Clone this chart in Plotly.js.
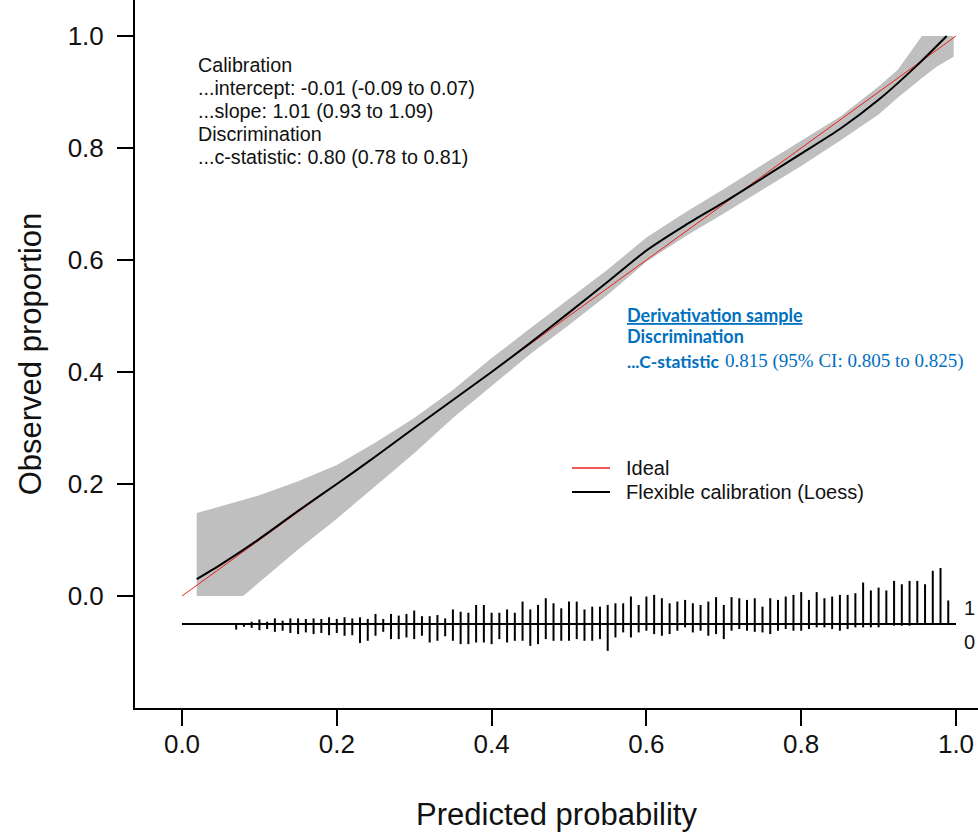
<!DOCTYPE html>
<html><head><meta charset="utf-8">
<script src="https://cdn.plot.ly/plotly-3.0.1.min.js"></script>
<style>html,body{margin:0;padding:0;background:#fff;}#chart{width:978px;height:835px;}</style>
</head><body><div id="chart"></div>
<script>
// ---- data ----
const idealX = [0, 1];
const idealY = [0, 1];

const loessX = [0.019, 0.05, 0.10, 0.15, 0.20, 0.25, 0.30, 0.35, 0.40, 0.45, 0.50, 0.55, 0.60, 0.65, 0.70, 0.75, 0.80, 0.85, 0.90, 0.95, 0.988];
const loessY = [0.030, 0.056, 0.102, 0.152, 0.200, 0.249, 0.300, 0.350, 0.400, 0.452, 0.506, 0.561, 0.617, 0.662, 0.703, 0.746, 0.790, 0.834, 0.886, 0.948, 1.000];

const bandX     = [0.019, 0.05, 0.079, 0.10, 0.15, 0.20, 0.25, 0.30, 0.35, 0.40, 0.45, 0.50, 0.55, 0.60, 0.65, 0.70, 0.75, 0.80, 0.85, 0.90, 0.925, 0.956, 0.975, 0.997];
const bandUpper = [0.148, 0.160, 0.172, 0.180, 0.205, 0.234, 0.274, 0.318, 0.368, 0.425, 0.478, 0.530, 0.583, 0.640, 0.685, 0.727, 0.770, 0.812, 0.856, 0.910, 0.940, 1.000, 1.000, 1.000];
const bandLower = [0.000, 0.000, 0.000, 0.025, 0.083, 0.138, 0.196, 0.255, 0.318, 0.375, 0.432, 0.484, 0.538, 0.597, 0.642, 0.683, 0.725, 0.768, 0.813, 0.860, 0.890, 0.925, 0.945, 0.963];

const bins = [0.07,0.08,0.09,0.10,0.11,0.12,0.13,0.14,0.15,0.16,0.17,0.18,0.19,0.20,0.21,0.22,0.23,0.24,0.25,0.26,0.27,0.28,0.29,0.30,0.31,0.32,0.33,0.34,0.35,0.36,0.37,0.38,0.39,0.40,0.41,0.42,0.43,0.44,0.45,0.46,0.47,0.48,0.49,0.50,0.51,0.52,0.53,0.54,0.55,0.56,0.57,0.58,0.59,0.60,0.61,0.62,0.63,0.64,0.65,0.66,0.67,0.68,0.69,0.70,0.71,0.72,0.73,0.74,0.75,0.76,0.77,0.78,0.79,0.80,0.81,0.82,0.83,0.84,0.85,0.86,0.87,0.88,0.89,0.90,0.91,0.92,0.93,0.94,0.95,0.96,0.97,0.98,0.99];
// scaled frequency of events (upward spikes)
const spikeUp = [0,0,0.004,0.008,0.004,0.010,0.006,0.010,0.010,0.009,0.010,0.009,0.012,0.009,0.012,0.010,0.012,0.009,0.018,0.009,0.018,0.015,0.018,0.024,0.014,0.014,0.016,0.010,0.026,0.022,0.020,0.034,0.034,0.020,0.020,0.026,0.020,0.040,0.026,0.034,0.046,0.037,0.028,0.040,0.040,0.026,0.031,0.031,0.034,0.037,0.037,0.049,0.034,0.049,0.052,0.046,0.037,0.040,0.043,0.037,0.034,0.040,0.048,0.034,0.048,0.046,0.043,0.046,0.031,0.046,0.043,0.049,0.052,0.057,0.043,0.057,0.046,0.049,0.052,0.052,0.055,0.074,0.060,0.065,0.060,0.077,0.071,0.077,0.077,0.071,0.095,0.100,0.042];
// scaled frequency of non-events (downward spikes)
const spikeDown = [0.010,0.005,0.007,0.011,0.009,0.014,0.012,0.016,0.018,0.015,0.018,0.016,0.020,0.016,0.021,0.020,0.034,0.030,0.021,0.014,0.027,0.027,0.024,0.027,0.021,0.033,0.030,0.022,0.030,0.036,0.036,0.033,0.033,0.036,0.027,0.033,0.030,0.030,0.039,0.036,0.027,0.030,0.030,0.030,0.027,0.030,0.030,0.027,0.048,0.024,0.015,0.024,0.015,0.012,0.018,0.021,0.018,0.012,0.006,0.015,0.012,0.021,0.018,0.027,0.012,0.009,0.012,0.014,0.015,0.018,0.012,0.009,0.012,0.012,0.009,0.006,0.006,0.009,0.012,0.009,0.006,0.006,0.006,0.006,0,0.003,0.003,0.003,0,0,0,0,0];
const lineBins = -0.05;
const baselineX = [0, 1];

const statsLines = ["Calibration", "...intercept: -0.01 (-0.09 to 0.07)", "...slope: 1.01 (0.93 to 1.09)", "Discrimination", "...c-statistic: 0.80 (0.78 to 0.81)"];
const legendLabels = ["Ideal", "Flexible calibration (Loess)"];
const derivTitle = "Derivativation sample";
const derivSub = "Discrimination";
const derivStatLabel = "...C-statistic";
const derivStatValue = "0.815 (95% CI: 0.805 to 0.825)";
const tickVals = [0, 0.2, 0.4, 0.6, 0.8, 1.0];
const tickText = ["0.0", "0.2", "0.4", "0.6", "0.8", "1.0"];

// ---- build traces ----
const polyX = bandX.concat(bandX.slice().reverse());
const polyY = bandUpper.concat(bandLower.slice().reverse());

const upX = [], upY = [], dnX = [], dnY = [];
bins.forEach((b, i) => {
  if (spikeUp[i] > 0) { upX.push(b, b, null); upY.push(lineBins, lineBins + spikeUp[i], null); }
  if (spikeDown[i] > 0) { dnX.push(b, b, null); dnY.push(lineBins, lineBins - spikeDown[i], null); }
});

const traces = [
  {x: polyX, y: polyY, type: 'scatter', mode: 'lines', fill: 'toself', fillcolor: '#bfbfbf', line: {width: 0, color: '#bfbfbf'}, hoverinfo: 'skip', showlegend: false},
  {x: idealX, y: idealY, type: 'scatter', mode: 'lines', line: {color: '#e8211f', width: 1}, showlegend: false},
  {x: loessX, y: loessY, type: 'scatter', mode: 'lines', line: {color: '#000', width: 2, shape: 'spline', smoothing: 0.6}, showlegend: false},
  {x: baselineX, y: [lineBins, lineBins], type: 'scatter', mode: 'lines', line: {color: '#000', width: 2}, showlegend: false},
  {x: upX, y: upY, type: 'scatter', mode: 'lines', line: {color: '#000', width: 2}, showlegend: false},
  {x: dnX, y: dnY, type: 'scatter', mode: 'lines', line: {color: '#000', width: 2}, showlegend: false}
];

// plot area in pixels: left 135, right 978, top 0, bottom 708
const PL = 135, PR = 978, PT = 0, PB = 708;
const px = v => (v - PL) / (PR - PL);
const py = v => (PB - v) / (PB - PT);

const annotations = [];
const statY = [65, 88, 110.5, 133.5, 156.5];
statsLines.forEach((t, i) => annotations.push({xref: 'paper', yref: 'paper', x: px(196), y: py(statY[i]), xanchor: 'left', yanchor: 'middle', text: t, showarrow: false, font: {family: 'Liberation Sans, Arial, sans-serif', size: 19.7, color: '#111'}}));

// legend (drawn by hand to match spacing)
const legY = [468, 492];
const legColors = ['#e8211f', '#000'];
const shapes = [];
legendLabels.forEach((t, i) => {
  shapes.push({type: 'line', xref: 'paper', yref: 'paper', x0: px(572), x1: px(610), y0: py(legY[i]), y1: py(legY[i]), line: {color: legColors[i], width: i === 0 ? 1.5 : 2}});
  annotations.push({xref: 'paper', yref: 'paper', x: px(624), y: py(legY[i]), xanchor: 'left', yanchor: 'middle', text: t, showarrow: false, font: {family: 'Liberation Sans, Arial, sans-serif', size: 20, color: '#111'}});
});

const blue = '#0070c0';
annotations.push({xref: 'paper', yref: 'paper', x: px(625), y: py(315), xanchor: 'left', yanchor: 'middle', text: '<b><u>' + derivTitle + '</u></b>', showarrow: false, font: {family: 'Lato, sans-serif', size: 18, color: blue}});
annotations.push({xref: 'paper', yref: 'paper', x: px(625), y: py(336), xanchor: 'left', yanchor: 'middle', text: '<b>' + derivSub + '</b>', showarrow: false, font: {family: 'Lato, sans-serif', size: 18, color: blue}});
annotations.push({xref: 'paper', yref: 'paper', x: px(625), y: py(361), xanchor: 'left', yanchor: 'middle', text: '<b>' + derivStatLabel + '</b>', showarrow: false, font: {family: 'Lato, sans-serif', size: 17.5, color: blue}});
annotations.push({xref: 'paper', yref: 'paper', x: px(723), y: py(361), xanchor: 'left', yanchor: 'middle', text: derivStatValue, showarrow: false, font: {family: 'Liberation Serif, Times New Roman, serif', size: 19, color: blue}});

// "1" and "0" histogram labels at the right edge
annotations.push({xref: 'paper', yref: 'paper', x: px(977), y: py(608), xanchor: 'right', yanchor: 'middle', text: '1', showarrow: false, font: {family: 'Liberation Sans, Arial, sans-serif', size: 20, color: '#111'}});
annotations.push({xref: 'paper', yref: 'paper', x: px(977), y: py(642), xanchor: 'right', yanchor: 'middle', text: '0', showarrow: false, font: {family: 'Liberation Sans, Arial, sans-serif', size: 20, color: '#111'}});

const xr0 = -(182 - PL) / 774, xr1 = 1 + (PR - 956) / 774;
const yr0 = -(PB - 596) / 560, yr1 = 1 + (596 - 560 - PT) / 560;

const layout = {
  width: 978, height: 835,
  margin: {l: PL, r: 978 - PR, t: PT, b: 835 - PB, pad: 0},
  paper_bgcolor: '#fff', plot_bgcolor: '#fff',
  font: {family: 'Liberation Sans, Arial, sans-serif', color: '#111'},
  showlegend: false,
  xaxis: {range: [xr0, xr1], tickvals: tickVals, ticktext: tickText, ticks: 'outside', ticklen: 16, tickwidth: 2, tickcolor: '#000',
          showline: true, linecolor: '#000', linewidth: 2, showgrid: false, zeroline: false, mirror: false,
          tickfont: {size: 26, color: '#111'}, ticklabelstandoff: -4,
          title: {text: 'Predicted probability', font: {size: 31, color: '#111'}, standoff: 45}, automargin: false},
  yaxis: {range: [yr0, yr1], tickvals: tickVals, ticktext: tickText, ticks: 'outside', ticklen: 16, tickwidth: 2, tickcolor: '#000',
          showline: true, linecolor: '#000', linewidth: 2, showgrid: false, zeroline: false, mirror: false,
          tickfont: {size: 26, color: '#111'}, ticklabelstandoff: 8,
          title: {text: 'Observed proportion', font: {size: 31, color: '#111'}, standoff: 17}, automargin: false},
  shapes: shapes,
  annotations: annotations
};

Plotly.newPlot('chart', traces, layout, {displayModeBar: false, staticPlot: true});
</script>
</body></html>
